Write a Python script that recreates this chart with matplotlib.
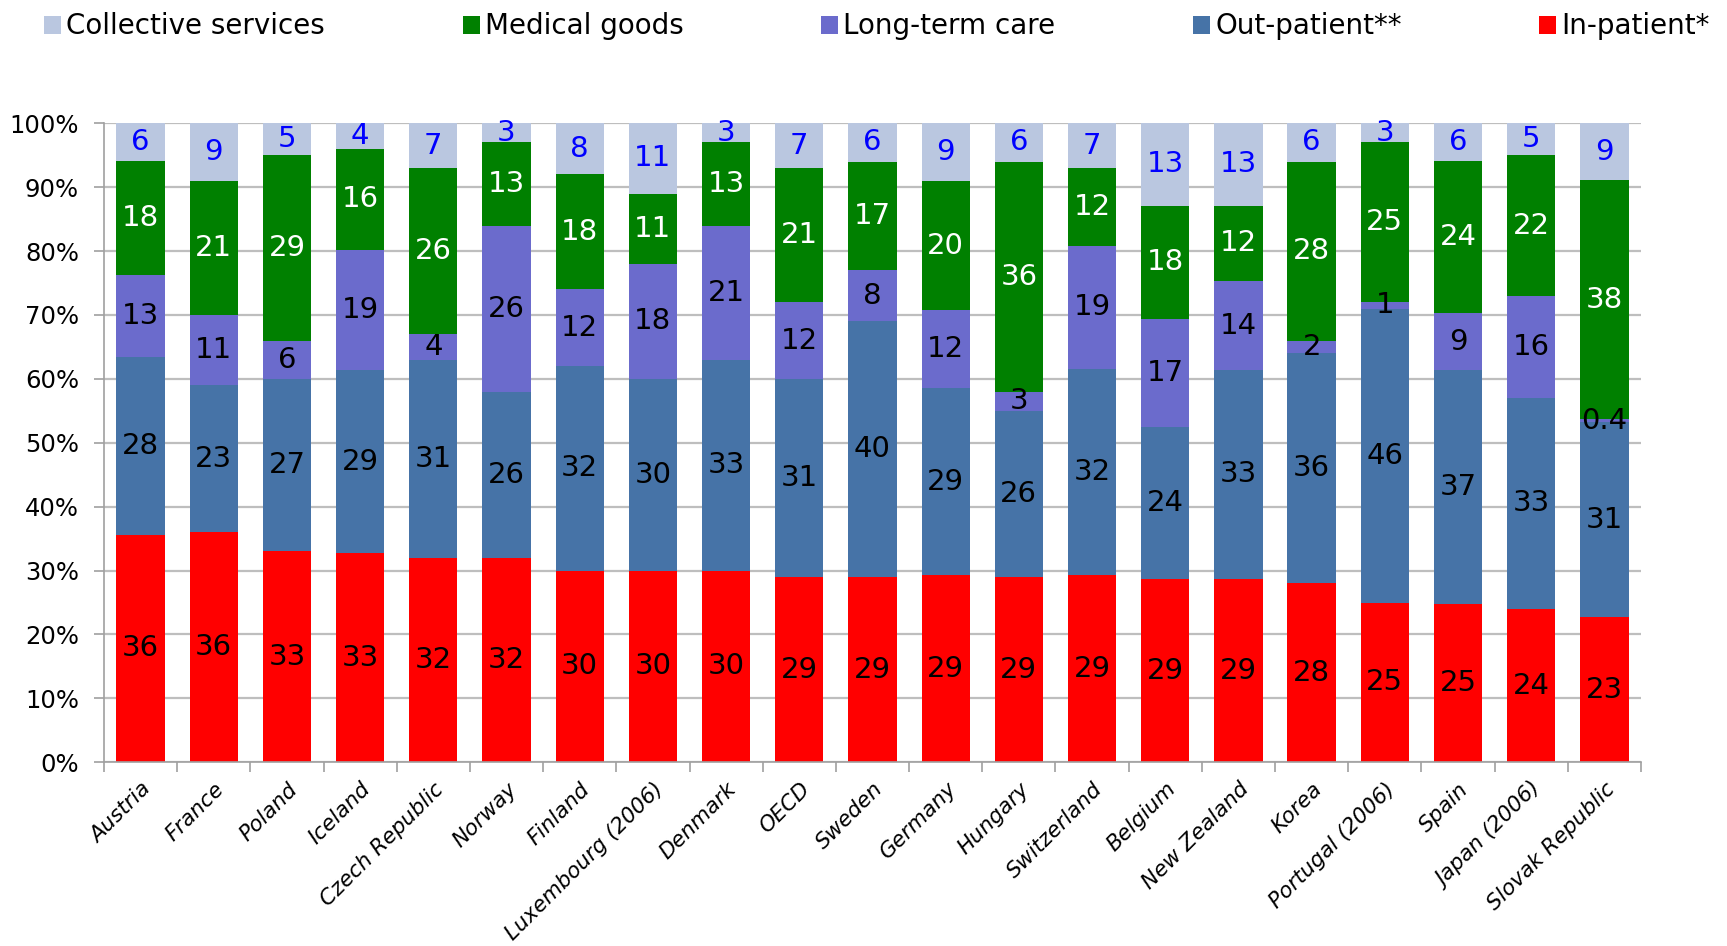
import matplotlib
matplotlib.use("Agg")
import matplotlib.pyplot as plt
from matplotlib.patches import Patch
import numpy as np

countries = ["Austria", "France", "Poland", "Iceland", "Czech Republic", "Norway",
             "Finland", "Luxembourg (2006)", "Denmark", "OECD", "Sweden", "Germany",
             "Hungary", "Switzerland", "Belgium", "New Zealand", "Korea",
             "Portugal (2006)", "Spain", "Japan (2006)", "Slovak Republic"]

in_patient = [36, 36, 33, 33, 32, 32, 30, 30, 30, 29, 29, 29, 29, 29, 29, 29, 28, 25, 25, 24, 23]
out_patient = [28, 23, 27, 29, 31, 26, 32, 30, 33, 31, 40, 29, 26, 32, 24, 33, 36, 46, 37, 33, 31]
long_term_care = [13, 11, 6, 19, 4, 26, 12, 18, 21, 12, 8, 12, 3, 19, 17, 14, 2, 1, 9, 16, 0.4]
medical_goods = [18, 21, 29, 16, 26, 13, 18, 11, 13, 21, 17, 20, 36, 12, 18, 12, 28, 25, 24, 22, 38]
collective = [6, 9, 5, 4, 7, 3, 8, 11, 3, 7, 6, 9, 6, 7, 13, 13, 6, 3, 6, 5, 9]

# stacking order bottom -> top
series = [
    ("In-patient*", in_patient, "#FF0000", "black"),
    ("Out-patient**", out_patient, "#4673A7", "black"),
    ("Long-term care", long_term_care, "#6B6BCC", "black"),
    ("Medical goods", medical_goods, "#008000", "white"),
    ("Collective services", collective, "#BAC7E0", "#0000FF"),
]

font = "DejaVu Sans"

fig = plt.figure(figsize=(17.27, 9.46), dpi=100)
ax = fig.add_axes([0.0602, 0.1942, 0.8900, 0.6755])

x = np.arange(len(countries))
totals = np.sum([np.array(s[1], dtype=float) for s in series], axis=0)
bottom = np.zeros(len(countries))
for name, vals, color, tcolor in series:
    vals = np.array(vals, dtype=float)
    share = vals / totals * 100.0
    ax.bar(x, share, bottom=bottom, width=0.66, color=color, edgecolor="none",
           zorder=2, label=name)
    for xi, b, h, v in zip(x, bottom, share, vals):
        ax.text(xi, b + h / 2, f"{v:g}", ha="center", va="center",
                fontsize=21, color=tcolor, family=font, zorder=3)
    bottom += share

ax.set_xlim(-0.5, len(countries) - 0.5)
ax.set_ylim(0, 100)
ax.set_yticks(np.arange(0, 101, 10))
ax.set_yticklabels([f"{v}%" for v in range(0, 101, 10)], fontsize=17.5, family=font)
ax.yaxis.grid(True, color="#BEBEBE", linewidth=1.6, zorder=0)
ax.set_axisbelow(True)
ax.tick_params(axis="y", length=7, width=1.2, color="#A0A0A0", pad=11)

ax.set_xticks(x)
ax.set_xticklabels(countries, rotation=45, ha="right", rotation_mode="anchor",
                   fontsize=15.5, style="italic", family=font)
ax.set_xticks(np.arange(-0.5, len(countries), 1.0), minor=True)
ax.tick_params(axis="x", which="major", length=0, pad=12)
ax.tick_params(axis="x", which="minor", length=7, width=1.2, color="#A0A0A0")

for side in ("top", "right"):
    ax.spines[side].set_visible(False)
for side in ("left", "bottom"):
    ax.spines[side].set_color("#A0A0A0")
    ax.spines[side].set_linewidth(1.2)

legend_order = [4, 3, 2, 1, 0]
handles = [Patch(facecolor=series[i][2], edgecolor="none", label=series[i][0])
           for i in legend_order]
fig.legend(handles=handles, loc="center left", bbox_to_anchor=(0.0255, 0.972),
           ncol=5, frameon=False, prop={"family": font, "size": 20},
           handlelength=0.62, handleheight=0.62, handletextpad=0.18,
           columnspacing=4.95, borderpad=0, borderaxespad=0)

fig.savefig("out.png", dpi=100)
